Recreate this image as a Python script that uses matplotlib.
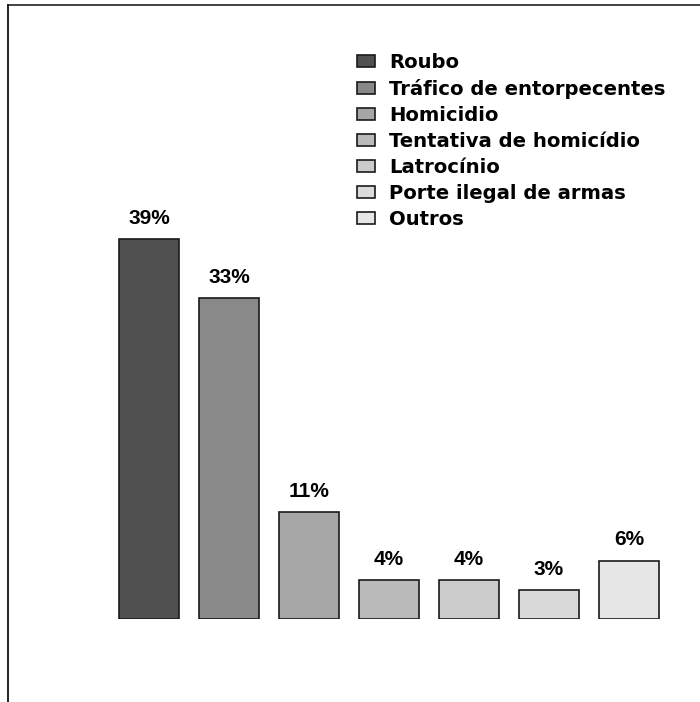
import matplotlib
matplotlib.use('Agg')
import matplotlib.pyplot as plt
from matplotlib.patches import Patch
from matplotlib.lines import Line2D


crimes = ['Roubo', 'Tráfico de entorpecentes', 'Homicidio',
          'Tentativa de homicídio', 'Latrocínio', 'Porte ilegal de armas',
          'Outros']
percent = [39, 33, 11, 4, 4, 3, 6]
labels = ['39%', '33%', '11%', '4%', '4%', '3%', '6%']
colors = ['#505050', '#898989', '#a6a6a6', '#bababa', '#cbcbcb',
          '#dadada', '#e6e6e6']

W, H = 700, 702
fig = plt.figure(figsize=(W / 100, H / 100), dpi=100)

# axes placed so bars land where they are in the picture
ax = fig.add_axes([109 / W, 83 / H, 560 / W, 438 / H])
pos = list(range(len(percent)))
ax.bar(pos, percent, width=0.75, color=colors, edgecolor='#1a1a1a',
       linewidth=1.2)
ax.set_xlim(-0.5, 6.5)
ax.set_ylim(0, 45)
ax.axis('off')

for x, h, lab in zip(pos, percent, labels):
    ax.annotate(lab, (x, h), xytext=(0, 8), textcoords='offset points',
                ha='center', va='bottom', fontsize=15, fontweight='bold',
                family='Liberation Sans', clip_on=False)

handles = [Patch(facecolor=c, edgecolor='#1a1a1a', linewidth=1.2)
           for c in colors]
fig.legend(handles, crimes, loc='upper left',
           bbox_to_anchor=(357 / W, 1 - 53 / H), frameon=False,
           prop={'family': 'DejaVu Sans', 'weight': 'bold', 'size': 14.1},
           handlelength=0.9, handleheight=0.55, handletextpad=0.75,
           labelspacing=0.36, borderpad=0, borderaxespad=0)

# outer frame (only top and left edges are visible)
fig.add_artist(Line2D([8 / W, 1], [1 - 5 / H, 1 - 5 / H],
                      transform=fig.transFigure, color='#333333', lw=1.3))
fig.add_artist(Line2D([8 / W, 8 / W], [0, 1 - 5 / H],
                      transform=fig.transFigure, color='#111111', lw=1.3))

fig.savefig('out.png', dpi=100, facecolor='white')
